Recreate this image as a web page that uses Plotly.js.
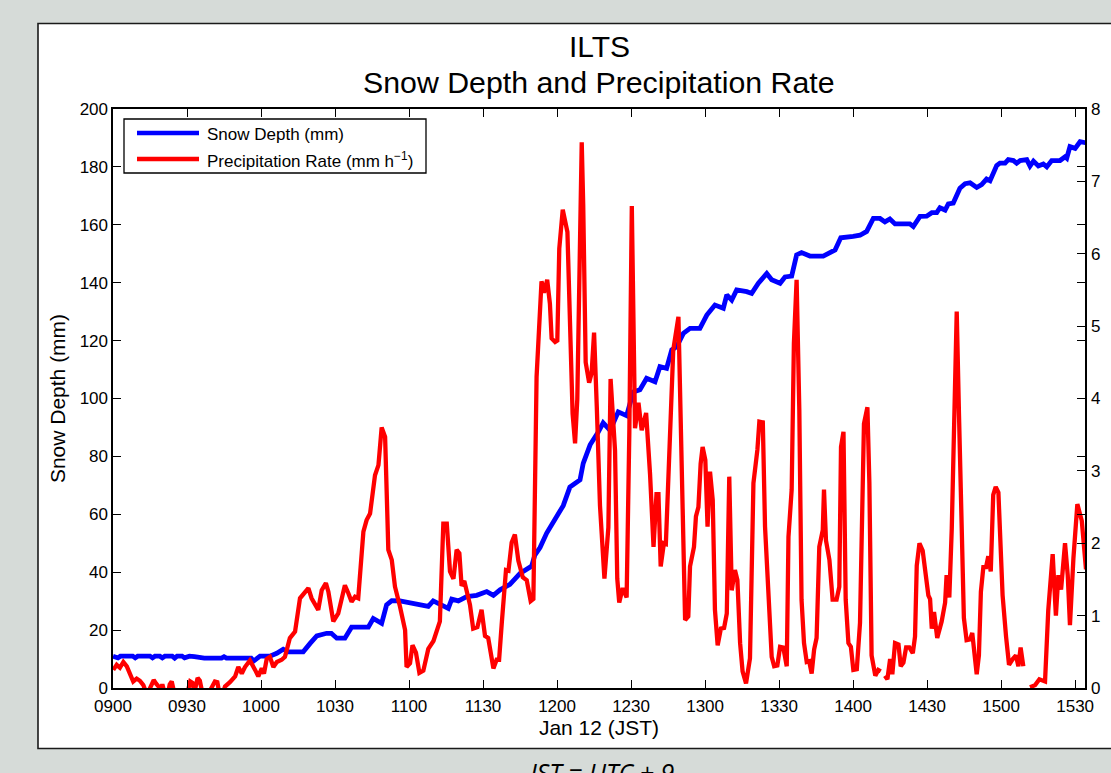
<!DOCTYPE html>
<html><head><meta charset="utf-8">
<script src="https://cdn.plot.ly/plotly-3.0.1.min.js"></script>
<style>html,body{margin:0;padding:0;background:#d6dbd8;}#chart{width:1111px;height:773px;}</style>
</head><body><div id="chart"></div>
<script>
// minutes after 09:00 JST, Jan 12
const snowTime = [0,2,3,8,9,10,15,16,17,19,20,21,24,25,26,28,29,31,33,35,37,40,44,45,46,48,50,52,54,56,57,58,59.6,63.6,66.4,69,71,74.5,77.1,79.9,82.6,86.6,88.5,90.7,94,96.7,103.5,105.5,108.9,110.9,113,116.3,121.7,127.8,129.8,135.9,137.3,140,143.4,147.4,151.5,154.2,156.9,160.9,165,169.7,171,173.1,175.8,179.2,182.5,185.2,189.3,190.6,193.4,196.7,198.7,201.5,204.8,208.2,210.9,213.6,216.3,219.7,221.7,224.4,226.5,228.5,231.2,233.9,237.9,240.7,244,247.4,248.8,250.8,252.8,256.9,258.9,261.6,265,267,270.4,272.4,275.1,277.1,279.1,282.5,287.9,292.7,295,300,302.8,305.5,308.2,310.9,312.9,314.9,317,323,324.4,327.1,329.8,331.9,333.9,335.2,337.3,338.6,340.6,343.3,345.4,347.4,350.1,352.1,354.1,355.5,358.2,359.5,361.6,362.9,365,366.3,367.7,370.4,371.7,373.1,375.1,377.1,378.5,380.5,383.9,385.9,386.6,387.9,390,392,394.5];
const snowDepth = [11,10.4,11,11,10.4,11,11,10.4,11,11,10.4,11,11,10.3,11,11,10.4,11,10.8,10.5,10.3,10.3,10.3,10.8,10.3,10.3,10.3,10.3,10.3,10.3,9.3,9.8,11,11,12,13.4,12.5,12.5,12.5,15.4,18,18.9,18.9,17.2,17.2,21,21,24,22.3,28.7,30.2,30.1,29.1,28.2,30.1,27.5,30.7,30.1,31.6,32,33.3,32,33.9,35.8,39.6,42.1,45.9,48.5,53.5,58.6,63,69.4,71.9,77.6,84,88.4,91.6,89,95.4,94.1,102.3,103,107,105.8,111,110.4,116.8,117.9,122.5,124.2,124.2,128.8,132.3,131.2,135.8,134,137.5,136.9,136.3,139.8,143.2,141,139.8,142,142.3,149.6,150.4,149.2,149.2,151.3,155.5,156,156.4,157.7,162.2,162.2,161,162,160.3,160.3,159.4,162.9,163,164.2,164.2,165.9,165.1,167.2,167.5,172.6,174.2,174.5,172.9,173.9,175.8,175.2,180.5,181.3,181.3,182.5,182.2,181.3,182.2,182.5,180.3,182,180.3,181,180,182.2,182.2,183.5,183,187,186.4,188.7,188.3];

const precipTime = [0.1,1.5,2.8,4.2,5.6,6.9,8.2,9.6,10.9,12.3,13.3,14.5,15.5,16.5,17.5,18.5,19.2,20,20.8,22,23,23.8,24.6,26,28.5,30.5,31.3,32.2,33,34.3,35.2,36,38,40.5,41.3,42.3,43,44.3,45.4,47.4,49.5,50.8,52.2,53.5,55.5,57.6,58.9,60.3,61.2,62.3,63.6,65,66.4,68.4,69.7,71.7,73.8,75.8,77.8,79.2,80.5,83.2,84.6,86.3,87.3,89.3,91.3,94,95.4,96.7,98.1,99.4,101.5,102.8,104.2,106.2,107.6,108.9,110.3,111.6,113,114.3,116.3,118.4,119,120.4,121.4,122.8,124.2,125.8,127.8,129.9,132.5,133.9,135.3,136.6,138,139.3,140.4,141.3,142.4,144.7,146,147.7,149.4,150.8,152.1,154.2,155.5,156.5,157.6,159.3,160.3,161.6,162.9,164.3,166.1,167.7,169.3,170.4,171.7,172.8,173.7,174.7,176,177.1,177.8,179.2,180.1,180.9,182.3,184.2,185.2,186.3,187.3,188.2,190,190.6,191.6,193,194,195,196.1,197.4,199.2,200.8,201.7,203.5,204.4,205.2,206.6,208.2,209.3,210.3,211.6,213,214.3,216.1,217.7,219.1,220.3,221.1,222,223.3,224.1,225.8,227.1,229.2,230.5,231.9,233.2,233.9,235.5,236.3,237.3,238.2,239,240.1,241,242,243.1,244,245.1,246.4,247.7,248.8,249.8,250.8,252.1,253.1,254.2,255.2,256.6,258.2,259.6,261.2,262,263.4,264.3,265.7,267,268,269.3,270.4,271.7,273.1,273.8,275.1,276,277.1,278.2,279.1,280.1,281.2,282.2,283.2,284.2,285.2,286.3,287.7,288.2,289,290.4,291.7,293.3,294.4,295.1,296.1,297,298.1,299.1,300.1,301.5,302.8,304.4,305.8,306.6,307.5,309,310.2,311.2,311.9,312.9,313.9,315,315.9,317,318.4,319.3,320.4,321.5,322.8,324.2,325.1,325.8,326.9,328.2,329.8,330.5,331.2,331.9,332.8,334.1,335.9,337.3,337.9,339,340,340.9,342,342.9,344,344.9,346,347.4,348.3,349.1,350.1,351,351.8,352.8,353.9,354.8,355.8,356.8,357.8,358.9,359.5,360.6,362,363.2,364.7,366,367,367.9,369,370,371.7,373.8,375.5,377.8,379.1,380.9,382.2,383.2,384.3,385.9,387,387.9,389.3,390.9,392.7,394.4];
const precipRate = [0.25,0.32,0.28,0.36,0.3,0.18,0.09,0.13,0.1,0.04,-0.05,-0.04,0.03,0.11,0.06,0.02,-0.05,0.05,-0.05,-0.12,0.05,0.09,-0.03,-0.12,-0.15,-0.02,0.09,0.07,-0.06,0.14,0.1,-0.03,-0.12,0.02,0.09,0.08,-0.05,-0.1,0.02,0.08,0.16,0.29,0.2,0.29,0.38,0.25,0.16,0.27,0.2,0.4,0.43,0.29,0.36,0.39,0.43,0.69,0.78,1.24,1.31,1.38,1.24,1.08,1.35,1.45,1.33,0.92,1.03,1.42,1.31,1.19,1.26,1.24,2.16,2.32,2.41,2.94,3.08,3.6,3.47,1.91,1.77,1.4,1.13,0.8,0.29,0.34,0.59,0.49,0.21,0.24,0.54,0.65,0.92,2.27,2.27,1.61,1.51,1.91,1.86,1.41,1.48,1.15,0.82,0.84,1.08,0.72,0.69,0.27,0.39,0.39,0.9,1.63,1.62,2.01,2.12,1.76,1.53,1.49,1.2,1.23,4.3,4.93,5.62,5.46,5.64,5.31,4.83,4.78,4.8,6.07,6.61,6.3,5.11,3.79,3.38,3.99,7.54,6.68,4.5,4.22,4.35,4.91,3.89,2.52,1.51,2.22,4.27,3.28,1.51,1.18,1.38,1.25,3.54,6.66,3.59,3.94,3.56,3.8,2.95,1.95,2.68,2.68,1.68,2,1.99,3.7,4.67,5.13,2.87,0.94,0.99,1.68,1.95,2.37,2.5,3.1,3.33,3.15,2.23,2.99,2.6,1.08,0.59,0.82,0.83,1.03,2.92,1.35,1.63,1.49,0.62,0.23,0.065,0.41,2.83,3.29,3.68,3.67,2.23,1.22,0.43,0.3,0.31,0.57,0.56,0.3,2.09,2.74,4.76,5.64,3.84,1.22,0.62,0.36,0.37,0.2,0.53,0.69,1.95,2.18,2.74,2.04,1.77,1.22,1.22,1.4,3.33,3.54,1.22,0.62,0.57,0.25,0.26,0.9,3.65,3.88,2.83,0.45,0.17,0.25,0.23,null,0.17,0.12,0.4,0.19,0.62,0.6,0.3,0.35,0.56,0.56,0.48,0.71,1.69,2,1.9,1.38,1.28,1.23,0.82,1.05,0.69,0.92,1.18,1.56,1.25,2.21,3.76,5.2,3.81,2.46,0.97,0.66,0.67,0.76,0.45,0.19,0.45,1.33,1.67,1.67,1.82,1.61,2.67,2.78,2.7,2.05,1.28,0.71,0.32,0.4,0.45,0.3,0.56,0.3,null,0.01,0.04,0.12,0.09,1.07,1.85,1,1.56,1.36,2,1.56,0.87,1.79,2.54,2.31,1.64];

const xTickVals = [0,30,60,90,120,150,180,210,240,270,300,330,360,390];
const xTickText = ['0900','0930','1000','1030','1100','1130','1200','1230','1300','1330','1400','1430','1500','1530'];
const snowName = 'Snow Depth (mm)';
const precipName = 'Precipitation Rate (mm h<sup>\u22121</sup>)';

const W = 1111, H = 773, L = 113, R = 1085, T = 109, B = 688;
const px = v => (v - L) / (R - L);
const py = v => (B - v) / (B - T);
const FONT = '"Liberation Sans", Arial, Helvetica, sans-serif';
const BLUE = '#0000ff', RED = '#ff0000';

const traces = [
  {x: snowTime, y: snowDepth, type: 'scatter', mode: 'lines', name: snowName,
   line: {color: BLUE, width: 4.8}, yaxis: 'y'},
  {x: precipTime, y: precipRate, type: 'scatter', mode: 'lines', name: precipName,
   line: {color: RED, width: 4.3}, yaxis: 'y2', connectgaps: false}
];

const axisCommon = {
  ticks: 'inside', ticklen: 8, tickwidth: 1, tickcolor: '#000',
  showline: true, linecolor: '#000', linewidth: 1.6,
  showgrid: false, zeroline: false, tickfont: {size: 17, color: '#000'}
};

const ann = (text, x, y, o) => Object.assign({text, x: px(x), y: py(y), xref: 'paper', yref: 'paper', showarrow: false}, o || {});

const layout = {
  width: W, height: H,
  margin: {l: L, r: W - R, t: T, b: H - B, pad: 0},
  paper_bgcolor: '#d6dbd8', plot_bgcolor: '#ffffff',
  font: {family: FONT, color: '#000', size: 17},
  showlegend: false,
  xaxis: Object.assign({}, axisCommon, {
    range: [0, 394], tickmode: 'array', tickvals: xTickVals, ticktext: xTickText, mirror: 'ticks',
    ticklabelstandoff: 2,
    title: {text: 'Jan 12 (JST)', font: {size: 21}, standoff: 4}
  }),
  yaxis: Object.assign({}, axisCommon, {
    range: [0, 200], tick0: 0, dtick: 20, mirror: 'ticks',
    title: {text: 'Snow Depth (mm)', font: {size: 21}, standoff: 8}
  }),
  yaxis2: Object.assign({}, axisCommon, {
    range: [0, 8], tick0: 0, dtick: 1, overlaying: 'y', side: 'right', ticklabelstandoff: 1
  }),
  shapes: [
    {type: 'rect', xref: 'paper', yref: 'paper', layer: 'below',
     x0: px(38), x1: px(1125), y0: py(748.5), y1: py(23.5),
     fillcolor: '#ffffff', line: {color: '#1a1a1a', width: 1.6}},
    {type: 'rect', xref: 'paper', yref: 'paper', layer: 'above',
     x0: px(124), x1: px(426), y0: py(173), y1: py(119),
     fillcolor: '#ffffff', line: {color: '#000', width: 1.3}},
    {type: 'line', xref: 'paper', yref: 'paper', layer: 'above',
     x0: px(137), x1: px(199), y0: py(133), y1: py(133), line: {color: BLUE, width: 4.5}},
    {type: 'line', xref: 'paper', yref: 'paper', layer: 'above',
     x0: px(137), x1: px(199), y0: py(159), y1: py(159), line: {color: RED, width: 4.5}}
  ],
  annotations: [
    ann('ILTS', 599, 47, {font: {size: 30}, xanchor: 'center', yanchor: 'middle'}),
    ann('Snow Depth and Precipitation Rate', 599, 83, {font: {size: 30.3}, xanchor: 'center', yanchor: 'middle'}),
    ann(snowName, 205, 134, {font: {size: 17}, xanchor: 'left', yanchor: 'middle'}),
    ann(precipName, 205, 160, {font: {size: 17}, xanchor: 'left', yanchor: 'middle'}),
    ann('JST = UTC + 9', 600, 772, {font: {size: 25, family: '"Open Sans", "Liberation Sans", sans-serif', style: 'italic'}, xanchor: 'center', yanchor: 'middle'})
  ]
};

Plotly.newPlot('chart', traces, layout, {staticPlot: true, displayModeBar: false});
</script>
</body></html>
